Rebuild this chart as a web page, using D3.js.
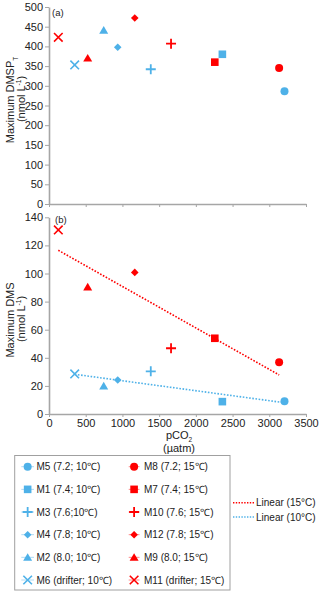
<!DOCTYPE html>
<html>
<head>
<meta charset="utf-8">
<script src="https://cdn.jsdelivr.net/npm/d3@7"></script>
<style>
  body { margin: 0; background: #fff; }
  svg { font-family: "Liberation Sans", Arial, sans-serif; }
</style>
</head>
<body>
<svg id="chart" width="320" height="594"></svg>
<script>
// series values
const shapes = ['circle', 'square', 'plus', 'diamond', 'triangle', 'cross'];

const blueLabels = ['M5 (7.2; 10\u2103)', 'M1 (7.4; 10\u2103)', 'M3 (7.6;10\u2103)', 'M4 (7.8; 10\u2103)', 'M2 (8.0; 10\u2103)', 'M6 (drifter; 10\u2103)'];
const bluePco2 = [3207, 2361, 1386, 936, 745, 350];
const blueDmsp = [286, 380, 342, 398, 441, 353];
const blueDms = [9.0, 8.8, 30.4, 24.2, 19.9, 28.5];

const redLabels = ['M8 (7.2; 15\u2103)', 'M7 (7.4; 15\u2103)', 'M10 (7.6; 15\u2103)', 'M12 (7.8; 15\u2103)', 'M9 (8.0; 15\u2103)', 'M11 (drifter; 15\u2103)'];
const redPco2 = [3134, 2258, 1662, 1168, 527, 127];
const redDmsp = [345, 360, 407, 472, 370, 423];
const redDms = [36.8, 53.9, 46.8, 100.8, 90.4, 131];

const xTicks = [0, 500, 1000, 1500, 2000, 2500, 3000, 3500];
const yTicksA = [0, 50, 100, 150, 200, 250, 300, 350, 400, 450, 500];
const yTicksB = [0, 20, 40, 60, 80, 100, 120, 140];

const BLUE = '#4eb1e8';
const RED = '#ff0000';
const AXIS = '#a6a6a6';

const svg = d3.select('#chart');

const x = d3.scaleLinear().domain([0, 3500]).range([49, 306]);
const yA = d3.scaleLinear().domain([0, 500]).range([204, 7]);
const yB = d3.scaleLinear().domain([0, 140]).range([414, 217.3]);

// draws one Excel-like marker
function marker(g, shape, color, cx, cy) {
  const m = g.append('g').attr('transform', `translate(${cx},${cy})`);
  if (shape === 'circle') {
    m.append('circle').attr('r', 4).attr('fill', color);
  } else if (shape === 'square') {
    m.append('rect').attr('x', -3.8).attr('y', -3.8).attr('width', 7.6).attr('height', 7.6).attr('fill', color);
  } else if (shape === 'diamond') {
    m.append('path').attr('d', 'M0,-3.8L3.8,0L0,3.8L-3.8,0Z').attr('fill', color);
  } else if (shape === 'triangle') {
    m.append('path').attr('d', 'M0,-4.2L4.5,3.4L-4.5,3.4Z').attr('fill', color);
  } else if (shape === 'plus') {
    m.append('path').attr('d', 'M-5,0H5M0,-5V5').attr('stroke', color).attr('stroke-width', 1.8);
  } else if (shape === 'cross') {
    m.append('path').attr('d', 'M-4.3,-4.3L4.3,4.3M-4.3,4.3L4.3,-4.3').attr('stroke', color).attr('stroke-width', 1.6);
  }
}

function yAxis(scale, ticks) {
  const g = svg.append('g').attr('transform', `translate(${x.range()[0]},0)`)
    .call(d3.axisLeft(scale).tickValues(ticks).tickSize(4).tickSizeOuter(0).tickPadding(2).tickFormat(d3.format('d')));
  g.select('.domain').attr('stroke', AXIS).attr('stroke-width', 1.6);
  g.selectAll('.tick line').attr('stroke', AXIS);
  g.selectAll('.tick text').attr('fill', '#222').style('font-size', '11px');
  return g;
}

function xAxis(y0, showLabels) {
  const g = svg.append('g').attr('transform', `translate(0,${y0})`)
    .call(d3.axisBottom(x).tickValues(xTicks).tickSize(3).tickSizeOuter(0).tickPadding(2).tickFormat(d3.format('d')));
  g.select('.domain').attr('stroke', AXIS).attr('stroke-width', 1.6);
  g.selectAll('.tick line').attr('stroke', AXIS);
  g.selectAll('.tick text').attr('fill', '#222').style('font-size', '11px');
  if (!showLabels) g.selectAll('.tick text').remove();
  return g;
}

// least squares line over the series' own range
function trend(xs, ys) {
  const mx = d3.mean(xs), my = d3.mean(ys);
  const sxy = d3.sum(xs, (v, i) => (v - mx) * (ys[i] - my));
  const sxx = d3.sum(xs, v => (v - mx) * (v - mx));
  const b = sxy / sxx;
  const a = my - b * mx;
  const [x0, x1] = d3.extent(xs);
  return [[x0, a + b * x0], [x1, a + b * x1]];
}

function yTitle(cy, main, sub) {
  const t1 = svg.append('text').attr('transform', `translate(13.5,${cy}) rotate(-90)`)
    .attr('text-anchor', 'middle').style('font-size', '11px').attr('fill', '#222');
  t1.append('tspan').text(main);
  if (sub) t1.append('tspan').attr('baseline-shift', 'sub').style('font-size', '6.5px').text(sub);
  svg.append('text').attr('transform', `translate(24.5,${cy - 1}) rotate(-90)`)
    .attr('text-anchor', 'middle').style('font-size', '11px').attr('fill', '#222')
    .html('(nmol L<tspan dy="-4" font-size="6.5px">-1</tspan><tspan dy="4">)</tspan>');
}

/* panel (a) */
yAxis(yA, yTicksA);
xAxis(204, false);
svg.append('text').attr('x', 52).attr('y', 16).style('font-size', '9.5px').attr('fill', '#222').text('(a)');
yTitle(100, 'Maximum DMSP', 'T');

const gA = svg.append('g');
blueDmsp.forEach((v, i) => marker(gA, shapes[i], BLUE, x(bluePco2[i]), yA(v)));
redDmsp.forEach((v, i) => marker(gA, shapes[i], RED, x(redPco2[i]), yA(v)));

/* panel (b) */
yAxis(yB, yTicksB);
xAxis(414, true);
svg.append('text').attr('x', 55).attr('y', 223).style('font-size', '9.5px').attr('fill', '#222').text('(b)');
yTitle(320, 'Maximum DMS', null);

const line = d3.line().x(d => x(d[0])).y(d => yB(d[1]));
svg.append('path').datum(trend(redPco2, redDms)).attr('d', line)
  .attr('stroke', RED).attr('stroke-width', 1.6).attr('stroke-dasharray', '1.6,1.6').attr('fill', 'none');
svg.append('path').datum(trend(bluePco2, blueDms)).attr('d', line)
  .attr('stroke', BLUE).attr('stroke-width', 1.6).attr('stroke-dasharray', '1.6,1.6').attr('fill', 'none');

const gB = svg.append('g');
blueDms.forEach((v, i) => marker(gB, shapes[i], BLUE, x(bluePco2[i]), yB(v)));
redDms.forEach((v, i) => marker(gB, shapes[i], RED, x(redPco2[i]), yB(v)));

const xt = svg.append('text').attr('x', 179).attr('y', 439).attr('text-anchor', 'middle')
  .style('font-size', '11px').attr('fill', '#222');
xt.append('tspan').text('pCO');
xt.append('tspan').attr('dy', 2.5).style('font-size', '6.5px').text('2');
svg.append('text').attr('x', 179).attr('y', 452).attr('text-anchor', 'middle')
  .style('font-size', '11px').attr('fill', '#222').text('(\u00b5atm)');

/* legend */
svg.append('rect').attr('x', 14.7).attr('y', 455.5).attr('width', 215.3).attr('height', 134.5)
  .attr('fill', 'none').attr('stroke', '#a0a0a0').attr('stroke-width', 1);

const rowY = d3.scaleLinear().domain([0, 5]).range([466.7, 580]);
const legendCols = [
  { labels: blueLabels, color: BLUE, x0: 21.3, x1: 34, tx: 36.5 },
  { labels: redLabels, color: RED, x0: 128.7, x1: 139.5, tx: 144 },
];
legendCols.forEach(c => {
  c.labels.forEach((lab, i) => {
    const yy = rowY(i);
    svg.append('line').attr('x1', c.x0).attr('x2', c.x1).attr('y1', yy).attr('y2', yy)
      .attr('stroke', c.color).attr('stroke-width', 1).attr('opacity', 0.45);
    marker(svg, shapes[i], c.color, (c.x0 + c.x1) / 2, yy);
    svg.append('text').attr('x', c.tx).attr('y', yy).attr('dy', '0.35em')
      .style('font-size', '10px').attr('fill', '#222').text(lab);
  });
});

const trendLegend = [
  { label: 'Linear (15\u00b0C)', color: RED, y: 502.7 },
  { label: 'Linear (10\u00b0C)', color: BLUE, y: 517 },
];
trendLegend.forEach(t => {
  svg.append('line').attr('x1', 233).attr('x2', 255).attr('y1', t.y).attr('y2', t.y)
    .attr('stroke', t.color).attr('stroke-width', 1.4).attr('stroke-dasharray', '1.4,1.4');
  svg.append('text').attr('x', 256).attr('y', t.y).attr('dy', '0.35em')
    .style('font-size', '10px').attr('fill', '#222').text(t.label);
});
</script>
</body>
</html>
